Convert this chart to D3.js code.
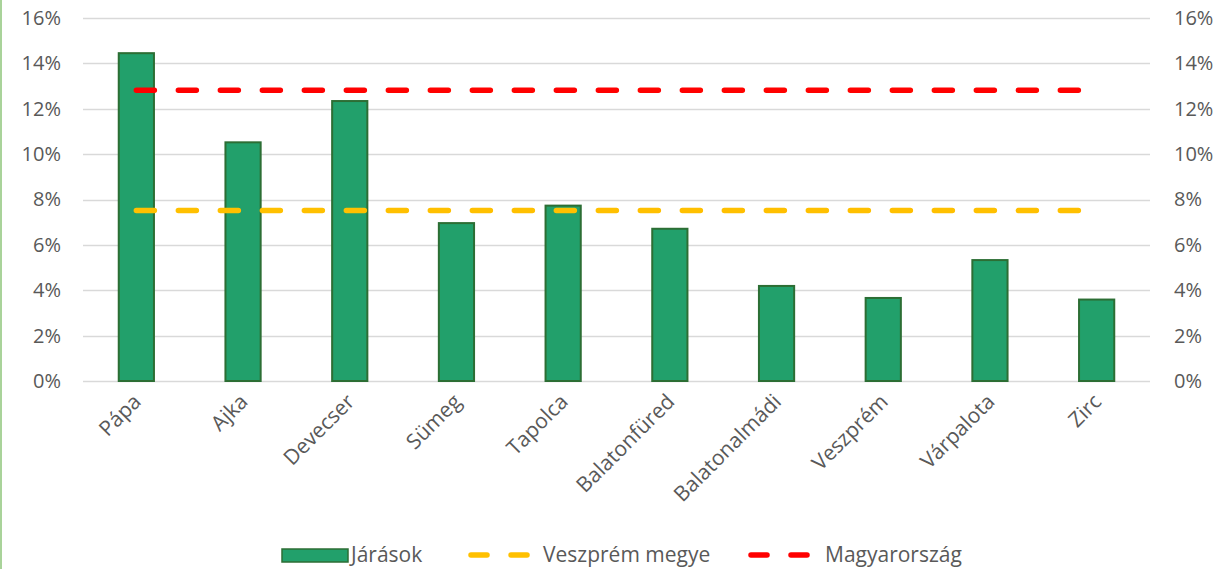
<!DOCTYPE html>
<html>
<head>
<meta charset="utf-8">
<script src="https://cdn.jsdelivr.net/npm/d3@7"></script>
<style>
  html, body { margin: 0; padding: 0; background: #fff; }
  svg { display: block; font-family: "Open Sans", Lato, sans-serif; }
</style>
</head>
<body>
<svg id="chart" width="1216" height="569"></svg>
<script>
// data
const districts = ["Pápa", "Ajka", "Devecser", "Sümeg", "Tapolca", "Balatonfüred",
  "Balatonalmádi", "Veszprém", "Várpalota", "Zirc"];
const districtValues = [14.45, 10.52, 12.34, 6.96, 7.73, 6.71, 4.19, 3.66, 5.33, 3.59];
const countyValue = [7.51];
const nationalValue = [12.82];
const yTicks = [0, 2, 4, 6, 8, 10, 12, 14, 16];
const legendLabels = ["Járások", "Veszprém megye", "Magyarország"];

const W = 1216, H = 569;
const margin = { left: 83, right: 66, top: 18, bottom: 188 };
const svg = d3.select("#chart");

// faint green edge on the left side of the picture
svg.append("rect").attr("x", 0).attr("y", 0).attr("width", 2).attr("height", H)
  .attr("fill", "#A9D39A");

const x = d3.scaleBand().domain(districts)
  .range([margin.left, W - margin.right]).paddingInner(0.67).paddingOuter(0.335);
const y = d3.scaleLinear().domain([0, 16]).range([H - margin.bottom, margin.top]);

// gridlines
svg.append("g").selectAll("line").data(yTicks).join("line")
  .attr("x1", margin.left).attr("x2", W - margin.right)
  .attr("y1", d => Math.round(y(d)) + 0.5).attr("y2", d => Math.round(y(d)) + 0.5)
  .attr("stroke", "#D9D9D9").attr("stroke-width", 1.5);

// left + right axes (labels only)
const fmt = d => d + "%";
const leftAxis = svg.append("g").attr("transform", `translate(${margin.left},0)`)
  .call(d3.axisLeft(y).tickValues(yTicks).tickFormat(fmt).tickSize(0).tickPadding(22));
const rightAxis = svg.append("g").attr("transform", `translate(${W - margin.right},0)`)
  .call(d3.axisRight(y).tickValues(yTicks).tickFormat(fmt).tickSize(0).tickPadding(24));
[leftAxis, rightAxis].forEach(a => {
  a.select(".domain").remove();
  a.selectAll("text").attr("fill", "#595959").attr("font-size", "20px")
    .attr("font-family", "'Open Sans', Lato, sans-serif");
});

// bars
svg.append("g").selectAll("rect").data(districts).join("rect")
  .attr("x", d => x(d)).attr("width", x.bandwidth())
  .attr("y", (d, i) => y(districtValues[i]))
  .attr("height", (d, i) => y(0) - y(districtValues[i]))
  .attr("fill", "#22A06B").attr("stroke", "#2C6E34").attr("stroke-width", 2);

// reference lines
const cx = d => x(d) + x.bandwidth() / 2;
const first = districts[0], last = districts[districts.length - 1];
function refLine(val, color) {
  svg.append("line")
    .attr("x1", cx(first)).attr("x2", cx(last))
    .attr("y1", y(val)).attr("y2", y(val))
    .attr("stroke", color).attr("stroke-width", 5.5)
    .attr("stroke-linecap", "round").attr("stroke-dasharray", "18,24");
}
refLine(countyValue[0], "#FFC000");
refLine(nationalValue[0], "#FF0000");

// x labels, rotated
svg.append("g").selectAll("text").data(districts).join("text")
  .attr("transform", d => `translate(${cx(d) + 6},${y(0) + 22}) rotate(-45)`)
  .attr("text-anchor", "end")
  .attr("fill", "#595959").attr("font-size", "21px")
  .text(d => d);

// legend
const lg = svg.append("g").attr("font-size", "21px").attr("fill", "#595959");
lg.append("rect").attr("x", 282).attr("y", 549).attr("width", 66).attr("height", 13)
  .attr("fill", "#22A06B").attr("stroke", "#2C6E34").attr("stroke-width", 1.5);
lg.append("text").attr("x", 351).attr("y", 562).text(legendLabels[0]);

function legendDash(x0, color) {
  lg.append("line").attr("x1", x0).attr("x2", x0 + 62).attr("y1", 555).attr("y2", 555)
    .attr("stroke", color).attr("stroke-width", 5.5).attr("stroke-linecap", "round")
    .attr("stroke-dasharray", "16,24");
}
legendDash(471, "#FFC000");
lg.append("text").attr("x", 543).attr("y", 562).text(legendLabels[1]);
legendDash(751, "#FF0000");
lg.append("text").attr("x", 825).attr("y", 562).text(legendLabels[2]);
</script>
</body>
</html>
